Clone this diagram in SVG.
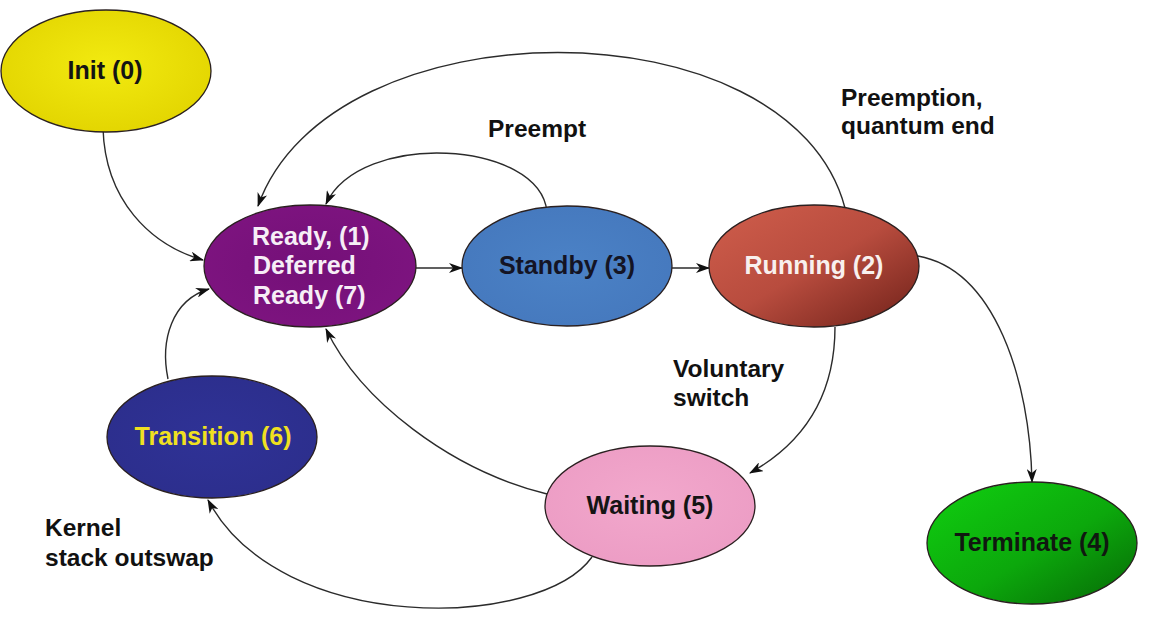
<svg xmlns="http://www.w3.org/2000/svg" width="1174" height="638" viewBox="0 0 1174 638">
<style>
.node{stroke:#2a2020;stroke-width:1.3}
.t{font-family:"Liberation Sans",Arial,sans-serif;font-weight:bold;font-size:25px}
.c{text-anchor:middle}
.lbl{font-family:"Liberation Sans",Arial,sans-serif;font-weight:bold;font-size:24.5px;fill:#111}
.edge{fill:none;stroke:#2b2b2b;stroke-width:1.4;marker-end:url(#ah)}
</style>
<defs>
<marker id="ah" viewBox="0 0 14 10" refX="13" refY="5" markerWidth="14" markerHeight="10" markerUnits="userSpaceOnUse" orient="auto">
<path d="M0,0 L14,5 L0,10 L4,5 z" fill="#111"/>
</marker>
<radialGradient id="gInit" cx="0.5" cy="0.45" r="0.6"><stop offset="0" stop-color="#f2ea10"/><stop offset="1" stop-color="#e2d400"/></radialGradient>
<radialGradient id="gReady" cx="0.5" cy="0.5" r="0.6"><stop offset="0" stop-color="#741078"/><stop offset="1" stop-color="#7e1480"/></radialGradient>
<radialGradient id="gStandby" cx="0.5" cy="0.5" r="0.6"><stop offset="0" stop-color="#4b82c6"/><stop offset="1" stop-color="#4578bd"/></radialGradient>
<linearGradient id="gRun" x1="0" y1="0" x2="1" y2="1"><stop offset="0" stop-color="#d05e4c"/><stop offset="0.5" stop-color="#b84c3e"/><stop offset="1" stop-color="#6e2018"/></linearGradient>
<radialGradient id="gTrans" cx="0.5" cy="0.5" r="0.6"><stop offset="0" stop-color="#2f3296"/><stop offset="1" stop-color="#2c2e8c"/></radialGradient>
<radialGradient id="gWait" cx="0.5" cy="0.45" r="0.6"><stop offset="0" stop-color="#f2a8cc"/><stop offset="1" stop-color="#ec9cc4"/></radialGradient>
<linearGradient id="gTerm" x1="0" y1="0" x2="1" y2="1"><stop offset="0" stop-color="#10d010"/><stop offset="0.55" stop-color="#0ca80c"/><stop offset="1" stop-color="#066806"/></linearGradient>
</defs>
<rect width="1174" height="638" fill="#ffffff"/>

<g id="connectors">
<path class="edge" d="M103,128 C105,200 150,245 203,260"/>
<path class="edge" d="M168,379 C160,340 172,300 209,289"/>
<path class="edge" d="M416,268 L462,268"/>
<path class="edge" d="M672,268 L709,268"/>
<path class="edge" d="M547,212 C540,140 360,130 326,204"/>
<path class="edge" d="M845,208 C790,0 330,2 258,206"/>
<path class="edge" d="M918,256 C995,270 1030,380 1032,482"/>
<path class="edge" d="M835,327 C835,400 800,445 750,473"/>
<path class="edge" d="M547,494 C450,470 360,400 326,329"/>
<path class="edge" d="M592,557 C540,630 280,636 208,500"/>
</g>

<g id="init">
<ellipse class="node" cx="106" cy="71" rx="105" ry="61" fill="url(#gInit)"/>
<text class="t c" x="105" y="79" fill="#141414">Init (0)</text>
</g>
<g id="ready">
<ellipse class="node" cx="310" cy="266" rx="106" ry="61" fill="url(#gReady)"/>
<text class="t" x="252" y="245" fill="#f6eef6">Ready, (1)</text>
<text class="t" x="253" y="274" fill="#f6eef6">Deferred</text>
<text class="t" x="253" y="304" fill="#f6eef6">Ready (7)</text>
</g>
<g id="standby">
<ellipse class="node" cx="567" cy="266" rx="105" ry="60" fill="url(#gStandby)"/>
<text class="t c" x="567" y="274" fill="#141424">Standby (3)</text>
</g>
<g id="running">
<ellipse class="node" cx="814" cy="266" rx="105" ry="61" fill="url(#gRun)"/>
<text class="t c" x="814" y="274" fill="#f8f0ee">Running (2)</text>
</g>
<g id="transition">
<ellipse class="node" cx="212" cy="437" rx="105" ry="61" fill="url(#gTrans)"/>
<text class="t c" x="213" y="445" fill="#f0e020">Transition (6)</text>
</g>
<g id="waiting">
<ellipse class="node" cx="650" cy="506" rx="105" ry="60" fill="url(#gWait)"/>
<text class="t c" x="650" y="514" fill="#141414">Waiting (5)</text>
</g>
<g id="terminate">
<ellipse class="node" cx="1032" cy="543" rx="105" ry="61" fill="url(#gTerm)"/>
<text class="t c" x="1032" y="551" fill="#101810">Terminate (4)</text>
</g>

<g id="labels">
<text class="lbl" x="488" y="137">Preempt</text>
<text class="lbl" x="841" y="106">Preemption,</text>
<text class="lbl" x="841" y="134">quantum end</text>
<text class="lbl" x="673" y="377">Voluntary</text>
<text class="lbl" x="673" y="406">switch</text>
<text class="lbl" x="45" y="536">Kernel</text>
<text class="lbl" x="45" y="566">stack outswap</text>
</g>
</svg>
